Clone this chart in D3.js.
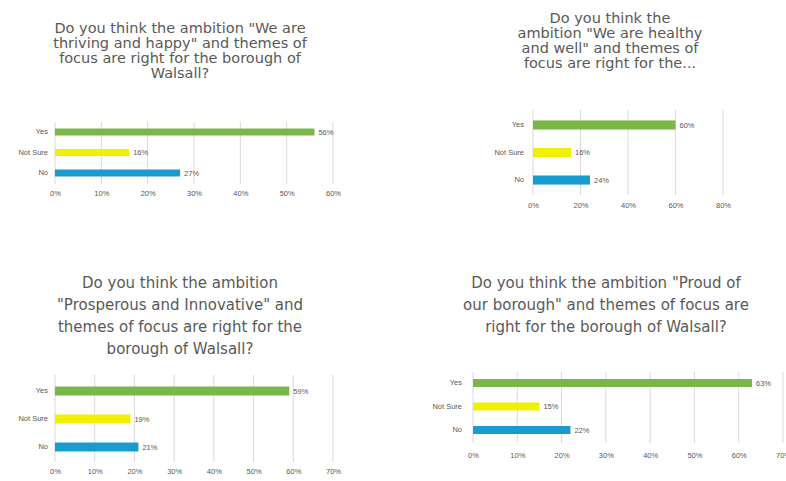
<!DOCTYPE html>
<html>
<head>
<meta charset="utf-8">
<script src="https://cdn.jsdelivr.net/npm/d3@7"></script>
<style>
  html, body { margin: 0; padding: 0; background: #ffffff; }
  svg { display: block; font-family: "Liberation Sans", Arial, sans-serif; }
</style>
</head>
<body>
<svg id="chart" width="786" height="481"></svg>
<script>
// ---- data ----
const categories = ["Yes", "Not Sure", "No"];
const barColors = ["#7ab648", "#f0f000", "#1a9bd0"];

const titleThriving = ["Do you think the ambition \"We are", "thriving and happy\" and themes of", "focus are right for the borough of", "Walsall?"];
const titleHealthy = ["Do you think the", "ambition \"We are healthy", "and well\" and themes of", "focus are right for the..."];
const titleProsperous = ["Do you think the ambition", "\"Prosperous and Innovative\" and", "themes of focus are right for the", "borough of Walsall?"];
const titleProud = ["Do you think the ambition \"Proud of", "our borough\" and themes of focus are", "right for the borough of Walsall?"];

const valuesThriving = [56, 16, 27];
const valuesHealthy = [60, 16, 24];
const valuesProsperous = [59, 19, 21];
const valuesProud = [63, 15, 22];

const ticksThriving = [0, 10, 20, 30, 40, 50, 60];
const ticksHealthy = [0, 20, 40, 60, 80];
const ticksProsperous = [0, 10, 20, 30, 40, 50, 60, 70];
const ticksProud = [0, 10, 20, 30, 40, 50, 60, 70];

// ---- layout (positions only) ----
const panels = [
  { title: titleThriving, values: valuesThriving, ticks: ticksThriving,
    x0: 55, x1: 333, y0: 115, y1: 190, pad: 0.66, gridTop: 122, gridBottom: 184, tickY: 198,
    titleX: 180, titleY: 33, titleSize: 14.5, titleLH: 15, catX: 48 },
  { title: titleHealthy, values: valuesHealthy, ticks: ticksHealthy,
    x0: 533, x1: 723, y0: 102, y1: 203, pad: 0.67, gridTop: 110, gridBottom: 195, tickY: 210,
    titleX: 610, titleY: 23, titleSize: 14.5, titleLH: 15, catX: 524 },
  { title: titleProsperous, values: valuesProsperous, ticks: ticksProsperous,
    x0: 55, x1: 333, y0: 367.5, y1: 470.5, pad: 0.68, gridTop: 375, gridBottom: 462, tickY: 476,
    titleX: 180, titleY: 288, titleSize: 15, titleLH: 22, catX: 48 },
  { title: titleProud, values: valuesProud, ticks: ticksProud,
    x0: 473, x1: 783, y0: 363.5, y1: 449.5, pad: 0.66, gridTop: 372, gridBottom: 443, tickY: 460,
    titleX: 606, titleY: 288, titleSize: 15, titleLH: 22, catX: 462 }
];

const svg = d3.select("#chart");
const textColor = "#595959";

panels.forEach(p => {
  const g = svg.append("g");
  const maxT = p.ticks[p.ticks.length - 1];
  const x = d3.scaleLinear().domain([0, maxT]).range([p.x0, p.x1]);
  const y = d3.scaleBand().domain(categories).range([p.y0, p.y1]).padding(p.pad);

  // title
  g.append("text")
    .attr("text-anchor", "middle")
    .attr("fill", textColor)
    .attr("font-size", p.titleSize)
    .attr("font-family", "DejaVu Sans, Verdana, sans-serif")
    .selectAll("tspan")
    .data(p.title)
    .join("tspan")
    .attr("x", p.titleX)
    .attr("y", (d, i) => p.titleY + i * p.titleLH)
    .text(d => d);

  // gridlines
  g.append("g")
    .selectAll("line")
    .data(p.ticks)
    .join("line")
    .attr("x1", d => x(d)).attr("x2", d => x(d))
    .attr("y1", p.gridTop).attr("y2", p.gridBottom)
    .attr("stroke", "#d9d9d9").attr("stroke-width", 1);

  // x axis labels
  const axis = d3.axisBottom(x).tickValues(p.ticks).tickFormat(d => d + "%").tickSize(0);
  const ax = g.append("g").attr("transform", `translate(0,${p.tickY - 10})`).call(axis);
  ax.select(".domain").remove();
  ax.selectAll("text").attr("fill", textColor).attr("font-size", 7.5)
    .attr("font-family", "Liberation Sans, Arial, sans-serif");

  // category labels
  const yAxis = d3.axisLeft(y).tickSize(0).tickPadding(0);
  const ay = g.append("g").attr("transform", `translate(${p.catX},0)`).call(yAxis);
  ay.select(".domain").remove();
  ay.selectAll("text").attr("fill", textColor).attr("font-size", 7.5)
    .attr("font-family", "Liberation Sans, Arial, sans-serif");

  // bars
  g.append("g")
    .selectAll("rect")
    .data(p.values)
    .join("rect")
    .attr("x", x(0))
    .attr("y", (d, i) => y(categories[i]))
    .attr("width", d => x(d) - x(0))
    .attr("height", y.bandwidth())
    .attr("fill", (d, i) => barColors[i]);

  // value labels
  g.append("g")
    .selectAll("text")
    .data(p.values)
    .join("text")
    .attr("x", d => x(d) + 4)
    .attr("y", (d, i) => y(categories[i]) + y.bandwidth() / 2)
    .attr("dy", "0.35em")
    .attr("fill", textColor)
    .attr("font-size", 7.5)
    .text(d => d + "%");
});
</script>
</body>
</html>
